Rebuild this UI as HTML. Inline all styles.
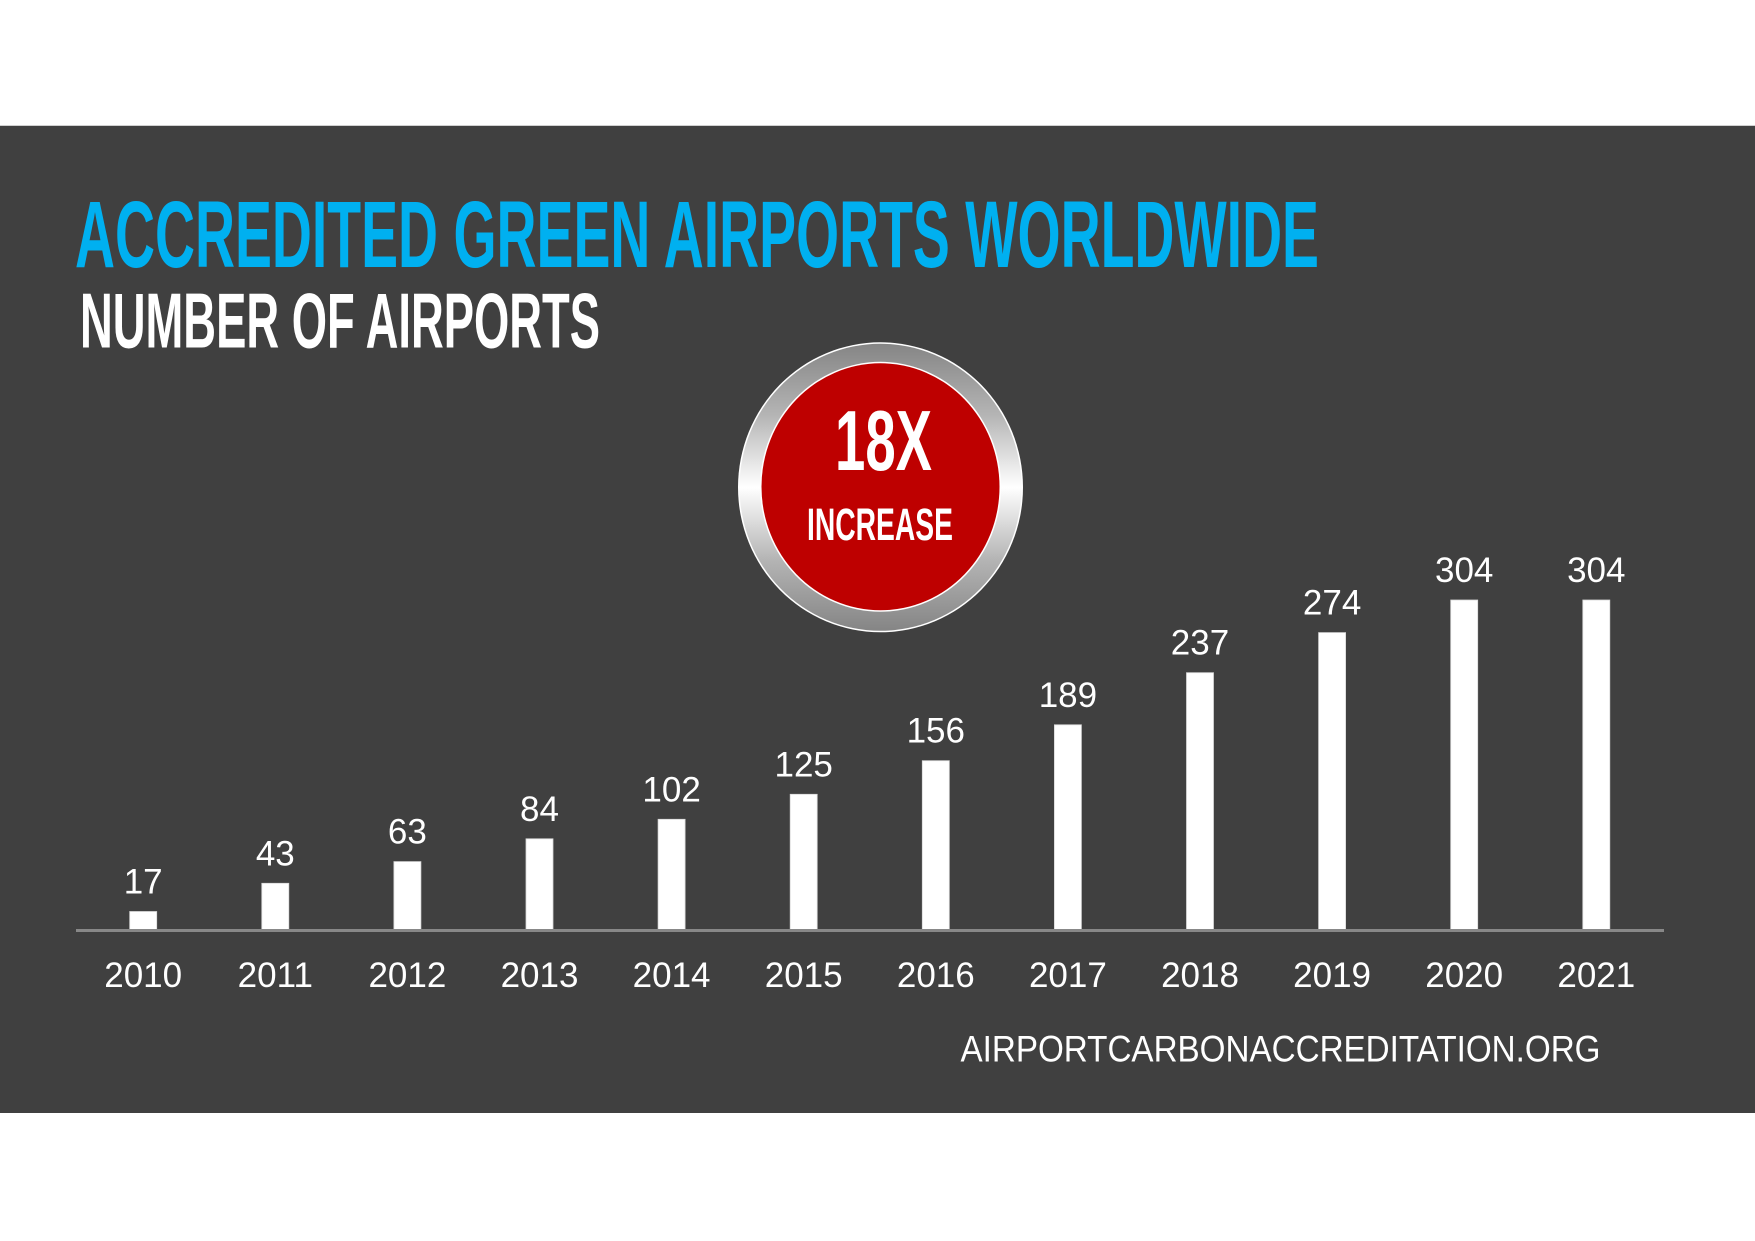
<!DOCTYPE html>
<html>
<head>
<meta charset="utf-8">
<style>
  html, body { margin:0; padding:0; background:#ffffff; }
  body { width:1755px; height:1241px; overflow:hidden; }
  svg { display:block; }
</style>
</head>
<body>
<svg width="1755" height="1241" viewBox="0 0 1755 1241" xmlns="http://www.w3.org/2000/svg">
  <defs>
    <linearGradient id="ring" x1="0" y1="0" x2="0" y2="1">
      <stop offset="0" stop-color="#858585"/>
      <stop offset="0.25" stop-color="#b5b5b5"/>
      <stop offset="0.5" stop-color="#ffffff"/>
      <stop offset="0.75" stop-color="#b5b5b5"/>
      <stop offset="1" stop-color="#858585"/>
    </linearGradient>
  </defs>
  <rect x="0" y="0" width="1755" height="1241" fill="#ffffff"/>
  <rect x="0" y="125" width="1755" height="1" fill="#d0d0d0"/>
  <rect x="0" y="126" width="1755" height="987" fill="#404040"/>

  <!-- Titles -->
  <text x="75" y="267" font-family="Liberation Sans, sans-serif" font-weight="bold" font-size="95" fill="#00b0f0" textLength="1244" lengthAdjust="spacingAndGlyphs">ACCREDITED GREEN AIRPORTS WORLDWIDE</text>
  <text x="80" y="347.5" font-family="Liberation Sans, sans-serif" font-weight="bold" font-size="78" fill="#ffffff" textLength="520" lengthAdjust="spacingAndGlyphs">NUMBER OF AIRPORTS</text>

  <!-- Badge -->
  <ellipse cx="880.5" cy="487.3" rx="142.5" ry="145" fill="#ffffff"/>
  <ellipse cx="880.5" cy="487.3" rx="141" ry="143.5" fill="url(#ring)"/>
  <ellipse cx="880.5" cy="486.8" rx="120.5" ry="125" fill="#ffffff"/>
  <ellipse cx="880.5" cy="486.8" rx="119" ry="123.5" fill="#be0000"/>
  <text x="835" y="470" font-family="Liberation Sans, sans-serif" font-weight="bold" font-size="85" fill="#ffffff" textLength="97" lengthAdjust="spacingAndGlyphs">18X</text>
  <text x="807" y="540" font-family="Liberation Sans, sans-serif" font-weight="bold" font-size="45" fill="#ffffff" textLength="146" lengthAdjust="spacingAndGlyphs">INCREASE</text>

  <!-- Bars -->
  <g fill="#ffffff" stroke="#d8d8d8" stroke-width="0.8">
    <rect x="129.7" y="911.5" width="27" height="18.5"/>
    <rect x="261.8" y="883.3" width="27" height="46.7"/>
    <rect x="393.9" y="861.6" width="27" height="68.4"/>
    <rect x="526.0" y="838.8" width="27" height="91.2"/>
    <rect x="658.1" y="819.3" width="27" height="110.7"/>
    <rect x="790.2" y="794.3" width="27" height="135.7"/>
    <rect x="922.3" y="760.7" width="27" height="169.3"/>
    <rect x="1054.4" y="724.8" width="27" height="205.2"/>
    <rect x="1186.5" y="672.7" width="27" height="257.3"/>
    <rect x="1318.6" y="632.6" width="27" height="297.4"/>
    <rect x="1450.7" y="600.0" width="27" height="330.0"/>
    <rect x="1582.8" y="600.0" width="27" height="330.0"/>
  </g>
  <rect x="76" y="929" width="1588" height="3" fill="#888888"/>

  <!-- Value labels -->
  <g font-family="Liberation Sans, sans-serif" font-size="35" fill="#ffffff" text-anchor="middle">
    <text x="143.2" y="893.5">17</text>
    <text x="275.3" y="865.3">43</text>
    <text x="407.4" y="843.6">63</text>
    <text x="539.5" y="820.8">84</text>
    <text x="671.6" y="801.3">102</text>
    <text x="803.7" y="776.3">125</text>
    <text x="935.8" y="742.7">156</text>
    <text x="1067.9" y="706.8">189</text>
    <text x="1200.0" y="654.7">237</text>
    <text x="1332.1" y="614.6">274</text>
    <text x="1464.2" y="582.0">304</text>
    <text x="1596.3" y="582.0">304</text>
  </g>

  <!-- Year labels -->
  <g font-family="Liberation Sans, sans-serif" font-size="35" fill="#ffffff" text-anchor="middle">
    <text x="143.2" y="987">2010</text>
    <text x="275.3" y="987">2011</text>
    <text x="407.4" y="987">2012</text>
    <text x="539.5" y="987">2013</text>
    <text x="671.6" y="987">2014</text>
    <text x="803.7" y="987">2015</text>
    <text x="935.8" y="987">2016</text>
    <text x="1067.9" y="987">2017</text>
    <text x="1200.0" y="987">2018</text>
    <text x="1332.1" y="987">2019</text>
    <text x="1464.2" y="987">2020</text>
    <text x="1596.3" y="987">2021</text>
  </g>

  <!-- URL -->
  <text x="960.5" y="1061.5" font-family="Liberation Sans, sans-serif" font-size="36.6" fill="#ffffff" textLength="640" lengthAdjust="spacingAndGlyphs">AIRPORTCARBONACCREDITATION.ORG</text>
</svg>
</body>
</html>
